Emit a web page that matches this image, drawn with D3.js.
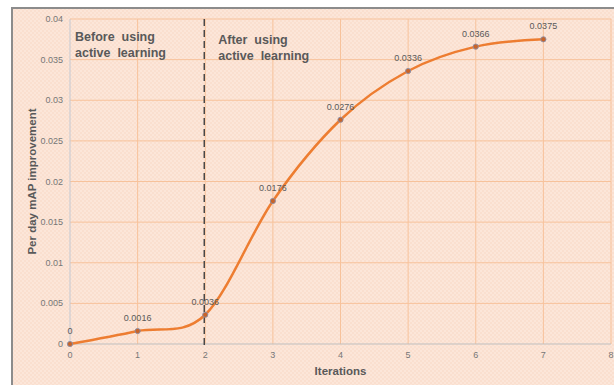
<!DOCTYPE html>
<html>
<head>
<meta charset="utf-8">
<script src="https://cdn.jsdelivr.net/npm/d3@7"></script>
<style>
  html, body { margin: 0; padding: 0; background: #ffffff; }
  svg { display: block; }
</style>
</head>
<body>
<svg id="chart" width="614" height="385"></svg>
<script>
// Iteration index and per-day mAP improvement
const iterations = [0, 1, 2, 3, 4, 5, 6, 7];
const improvement = [0, 0.0016, 0.0036, 0.0176, 0.0276, 0.0336, 0.0366, 0.0375];
const xTicks = [0, 1, 2, 3, 4, 5, 6, 7, 8];
const yTicks = [0, 0.005, 0.01, 0.015, 0.02, 0.025, 0.03, 0.035, 0.04];
const yTickLabels = ["0", "0.005", "0.01", "0.015", "0.02", "0.025", "0.03", "0.035", "0.04"];
const phaseBoundary = 2;
const phaseLabels = [
  { x: 0, lines: ["Before  using", "active  learning"] },
  { x: 2, lines: ["After  using", "active  learning"] }
];

const svg = d3.select("#chart");
const W = 614, H = 385;
const plotL = 70, plotR = 611, plotT = 19, plotB = 344;

// chart frame with peach fill and subtle texture
const defs = svg.append("defs");
const pat = defs.append("pattern")
  .attr("id", "tex").attr("width", 4).attr("height", 4)
  .attr("patternUnits", "userSpaceOnUse");
pat.append("rect").attr("width", 4).attr("height", 4).attr("fill", "#fce6d9");
pat.append("rect").attr("x", 0).attr("y", 0).attr("width", 2).attr("height", 2).attr("fill", "#fadfcf");
pat.append("rect").attr("x", 2).attr("y", 2).attr("width", 2).attr("height", 2).attr("fill", "#fadfcf");

svg.append("rect").attr("x", 12).attr("y", 8).attr("width", W - 12).attr("height", H - 8)
  .attr("fill", "url(#tex)");
svg.append("path")
  .attr("d", `M12,${H} L12,8 L${W},8`)
  .attr("fill", "none").attr("stroke", "#8c8c8c").attr("stroke-width", 2);

const x = d3.scaleLinear().domain([0, 8]).range([plotL, plotR]);
const y = d3.scaleLinear().domain([0, 0.04]).range([plotB, plotT]);

// gridlines
const grid = svg.append("g");
grid.selectAll("line.v").data(xTicks.slice(1)).join("line")
  .attr("class", "v")
  .attr("x1", d => x(d)).attr("x2", d => x(d))
  .attr("y1", plotT).attr("y2", plotB)
  .attr("stroke", "#f7c29b").attr("stroke-width", 1);
grid.selectAll("line.h").data(yTicks.slice(1)).join("line")
  .attr("class", "h")
  .attr("x1", plotL).attr("x2", plotR)
  .attr("y1", d => y(d)).attr("y2", d => y(d))
  .attr("stroke", "#f7c29b").attr("stroke-width", 1);

// axes lines
svg.append("line").attr("x1", plotL).attr("x2", plotL).attr("y1", plotT).attr("y2", plotB)
  .attr("stroke", "#c3c8d2").attr("stroke-width", 1);
svg.append("line").attr("x1", plotL).attr("x2", plotR).attr("y1", plotB).attr("y2", plotB)
  .attr("stroke", "#bfbfbf").attr("stroke-width", 1);

// tick labels
const tickFont = "'Liberation Sans', Arial, sans-serif";
svg.append("g").selectAll("text").data(yTicks).join("text")
  .attr("x", plotL - 7).attr("y", d => y(d) + 3)
  .attr("text-anchor", "end").attr("font-family", tickFont).attr("font-size", 9)
  .attr("fill", "#767676")
  .text((d, i) => yTickLabels[i]);
svg.append("g").selectAll("text").data(xTicks).join("text")
  .attr("x", d => x(d)).attr("y", plotB + 14)
  .attr("text-anchor", "middle").attr("font-family", tickFont).attr("font-size", 9)
  .attr("fill", "#767676")
  .text(d => d);

// axis titles
svg.append("text")
  .attr("transform", `translate(36,${(plotT + plotB) / 2}) rotate(-90)`)
  .attr("text-anchor", "middle").attr("font-family", tickFont).attr("font-weight", "bold")
  .attr("font-size", 11.5).attr("fill", "#595959")
  .text("Per day mAP improvement");
svg.append("text")
  .attr("x", (plotL + plotR) / 2).attr("y", 375)
  .attr("text-anchor", "middle").attr("font-family", tickFont).attr("font-weight", "bold")
  .attr("font-size", 11.5).attr("fill", "#595959")
  .text("Iterations");

// phase divider
svg.append("line")
  .attr("x1", x(phaseBoundary) - 1).attr("x2", x(phaseBoundary) - 1)
  .attr("y1", plotT).attr("y2", plotB + 2)
  .attr("stroke", "#404040").attr("stroke-width", 1.4)
  .attr("stroke-dasharray", "7,4");

// phase labels
phaseLabels.forEach((p, k) => {
  const t = svg.append("text")
    .attr("font-family", tickFont).attr("font-weight", "bold")
    .attr("font-size", 12.5).attr("fill", "#595959")
    .style("white-space", "pre");
  p.lines.forEach((ln, i) => {
    t.append("tspan")
      .attr("x", x(p.x) + (k === 0 ? 5 : 13))
      .attr("y", (k === 0 ? 41 : 44) + i * 16)
      .text(ln);
  });
});

// smoothed series
const pts = iterations.map((it, i) => [it, improvement[i]]);
const line = d3.line()
  .x(d => x(d[0])).y(d => y(d[1]))
  .curve(d3.curveCardinal.tension(0));
svg.append("path").datum(pts)
  .attr("d", line)
  .attr("fill", "none").attr("stroke", "#ed7d31").attr("stroke-width", 2.5);

// markers
svg.append("g").selectAll("circle").data(pts).join("circle")
  .attr("cx", d => x(d[0])).attr("cy", d => y(d[1])).attr("r", 2.6)
  .attr("fill", "#c8642a").attr("stroke", "#8a8fa8").attr("stroke-width", 0.9);

// value labels
svg.append("g").selectAll("text").data(pts).join("text")
  .attr("x", d => x(d[0])).attr("y", d => y(d[1]) - 10)
  .attr("text-anchor", "middle").attr("font-family", tickFont).attr("font-size", 9)
  .attr("fill", "#595959")
  .text(d => d[1] === 0 ? "0" : String(d[1]));
</script>
</body>
</html>
